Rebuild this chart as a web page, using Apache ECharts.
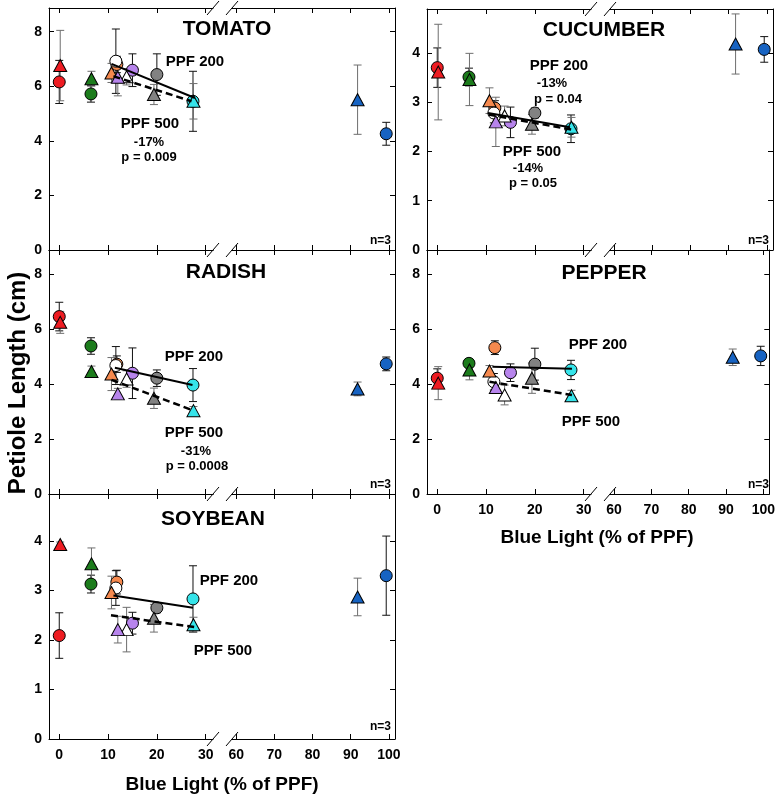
<!DOCTYPE html>
<html><head><meta charset="utf-8">
<script src="https://cdn.jsdelivr.net/npm/echarts@6/dist/echarts.min.js"></script>
<style>html,body{margin:0;padding:0;background:#fff}#c{width:778px;height:796px}</style>
</head><body><div id="c"></div>
<script>
// ---------- DATA ----------
// treatments (light sources), in drawing order
const treatments = ['Red', 'Green', 'Orange', 'White', 'Purple', 'Gray', 'Cyan', 'Blue'];
// blue light (% of PPF) for each treatment
const blue200 = [0, 6.5, 11.8, 11.6, 15, 20, 27.4, 99.3];   // circles, PPF 200
const blue500 = [0.2, 6.6, 10.7, 13.8, 12, 19.4, 27.5, 91.8]; // triangles, PPF 500

// petiole length (cm)
const tomato200 = [6.16, 5.72, 6.80, 6.92, 6.59, 6.43, 5.45, 4.26];
const tomato200Err = [0.79, 0.30, 0.30, 1.18, 0.60, 0.76, 1.10, 0.42];
const tomato500 = [6.76, 6.28, 6.49, 6.35, 6.33, 5.70, 5.45, 5.51];
const tomato500Err = [1.29, 0.27, 0.35, 0.30, 0.68, 0.37, 0.65, 1.27];
const tomatoFit200 = [[10.7, 6.82], [27.8, 5.57]];
const tomatoFit500 = [[11.1, 6.37], [27.1, 5.45]];

const cucumber200 = [3.70, 3.51, 2.88, 2.78, 2.59, 2.78, 2.46, 4.07];
const cucumber200Err = [0.40, 0.18, 0.15, 0.20, 0.31, 0.10, 0.28, 0.26];
const cucumber500 = [3.61, 3.46, 3.03, 2.72, 2.60, 2.55, 2.49, 4.18];
const cucumber500Err = [0.97, 0.53, 0.26, 0.20, 0.50, 0.20, 0.20, 0.61];
const cucumberFit200 = [[10.4, 2.78], [27.2, 2.49]];
const cucumberFit500 = [[10.5, 2.75], [27.6, 2.44]];

const radish200 = [6.45, 5.38, 4.72, 4.67, 4.39, 4.21, 3.96, 4.73];
const radish200Err = [0.52, 0.30, 0.30, 0.69, 0.92, 0.30, 0.60, 0.25];
const radish500 = [6.24, 4.45, 4.36, 4.18, 3.64, 3.48, 3.03, 3.82];
const radish500Err = [0.40, 0.20, 0.60, 0.30, 0.20, 0.37, 0.15, 0.25];
const radishFit200 = [[11.4, 4.59], [27.3, 3.96]];
const radishFit500 = [[10.7, 4.15], [27.4, 3.04]];

const pepper200 = [4.21, 4.75, 5.32, 4.08, 4.41, 4.72, 4.51, 5.02];
const pepper200Err = [0.34, 0.15, 0.25, 0.30, 0.32, 0.58, 0.35, 0.35];
const pepper500 = [4.03, 4.51, 4.47, 3.60, 3.87, 4.21, 3.57, 4.97];
const pepper500Err = [0.60, 0.36, 0.20, 0.36, 0.20, 0.55, 0.20, 0.30];
const pepperFit200 = [[11.3, 4.63], [27.6, 4.55]];
const pepperFit500 = [[10.7, 4.08], [27.6, 3.60]];

const soybean200 = [2.09, 3.13, 3.17, 3.05, 2.34, 2.65, 2.83, 3.30];
const soybean200Err = [0.46, 0.18, 0.24, 0.35, 0.22, 0.10, 0.67, 0.80];
const soybean500 = [3.93, 3.54, 2.96, 2.21, 2.21, 2.44, 2.31, 2.87];
const soybean500Err = [0.05, 0.32, 0.33, 0.45, 0.27, 0.28, 0.15, 0.38];
const soybeanFit200 = [[11.1, 2.90], [27.4, 2.65]];
const soybeanFit500 = [[10.6, 2.50], [27.7, 2.26]];

const xTicksLow = [0, 10, 20, 30];
const xTicksHigh = [60, 70, 80, 90, 100];
const yTicks8 = [0, 2, 4, 6, 8];
const yTicks4 = [0, 1, 2, 3, 4];

// ---------- STYLE ----------
const colorMap = {Red:'#ee1c22', Green:'#1c7c1c', Orange:'#f5894e', White:'#ffffff',
  Purple:'#b784ec', Gray:'#828282', Cyan:'#36e4ea', Blue:'#1763c2'};
const FONT = '"Liberation Sans", Arial, sans-serif';

const panels = [
  {name:'TOMATO', c200:tomato200, e200:tomato200Err, c500:tomato500, e500:tomato500Err, f200:tomatoFit200, f500:tomatoFit500,
   L:49, top:8, h:242, ymax:8.87, yt:yTicks8, xl:false},
  {name:'CUCUMBER', c200:cucumber200, e200:cucumber200Err, c500:cucumber500, e500:cucumber500Err, f200:cucumberFit200, f500:cucumberFit500,
   L:427, top:9, h:241, ymax:4.89, yt:yTicks4, xl:false},
  {name:'RADISH', c200:radish200, e200:radish200Err, c500:radish500, e500:radish500Err, f200:radishFit200, f500:radishFit500,
   L:49, top:250, h:244, ymax:8.87, yt:yTicks8, xl:false},
  {name:'PEPPER', c200:pepper200, e200:pepper200Err, c500:pepper500, e500:pepper500Err, f200:pepperFit200, f500:pepperFit500,
   L:427, top:250, h:244, ymax:8.87, yt:yTicks8, xl:true},
  {name:'SOYBEAN', c200:soybean200, e200:soybean200Err, c500:soybean500, e500:soybean500Err, f200:soybeanFit200, f500:soybeanFit500,
   L:49, top:494, h:245, ymax:4.95, yt:yTicks4, xl:true}
];

const grid = [], xAxis = [], yAxis = [], series = [];

function xAx(g, pos, low, showLabel) {
  const ticks = low ? xTicksLow : xTicksHigh;
  return {type:'value', gridIndex:g, position:pos, min: low ? -2.1 : 58.9, max: low ? 31.5 : 101.6,
    splitLine:{show:false},
    axisLine:{show:true, onZero:false, lineStyle:{color:'#000', width:1}},
    axisTick:{show:true, inside:true, length:5, customValues:ticks, lineStyle:{color:'#000', width:1}},
    axisLabel:{show:showLabel, customValues:ticks, margin:9, fontSize:14, fontWeight:'bold', color:'#000', fontFamily:FONT}};
}
function yAx(g, pos, p, showLabel) {
  return {type:'value', gridIndex:g, position:pos, min:0, max:p.ymax,
    splitLine:{show:false},
    axisLine:{show:true, onZero:false, lineStyle:{color:'#000', width:1}},
    axisTick:{show:true, inside:true, length:5, customValues:p.yt, lineStyle:{color:'#000', width:1}},
    axisLabel:{show:showLabel, customValues:p.yt, margin:7, fontSize:14, fontWeight:'bold', color:'#000', fontFamily:FONT}};
}
function errSeries(xi, yi, data, color) {
  return {type:'custom', xAxisIndex:xi, yAxisIndex:yi, z:2, silent:true, data:data,
    encode:{x:0, y:1},
    renderItem:function(params, api){
      const x = api.value(0), y = api.value(1), e = api.value(2);
      const t = api.coord([x, y + e]), b = api.coord([x, y - e]);
      const w = 4;
      const st = {stroke:color, lineWidth:1};
      return {type:'group', children:[
        {type:'line', shape:{x1:t[0], y1:t[1], x2:b[0], y2:b[1]}, style:st},
        {type:'line', shape:{x1:t[0]-w, y1:t[1], x2:t[0]+w, y2:t[1]}, style:st},
        {type:'line', shape:{x1:b[0]-w, y1:b[1], x2:b[0]+w, y2:b[1]}, style:st}
      ]};
    }};
}
function scat(xi, yi, items, symbol, size) {
  return {type:'scatter', xAxisIndex:xi, yAxisIndex:yi, symbol:symbol, symbolSize:size, z:3, silent:true,
    data:items, itemStyle:{borderColor:'#000', borderWidth:1, opacity:1}};
}

panels.forEach(function(p, i){
  const gA = 2*i, gB = 2*i + 1;
  grid.push({left:p.L, top:p.top, width:164, height:p.h});
  grid.push({left:p.L + 183, top:p.top, width:163, height:p.h});
  const xA = xAxis.length;
  xAxis.push(xAx(gA, 'bottom', true, p.xl), xAx(gA, 'top', true, false));
  const xB = xAxis.length;
  xAxis.push(xAx(gB, 'bottom', false, p.xl), xAx(gB, 'top', false, false));
  yAxis.push(yAx(gA, 'left', p, true), yAx(gB, 'right', p, false));

  const sets = [
    {xs:blue200, ys:p.c200, es:p.e200, sym:'circle', size:12, err:'#111'},
    {xs:blue500, ys:p.c500, es:p.e500, sym:'triangle', size:[13,12], err:'#6e6e6e'}
  ];
  // error bars first (below markers)
  sets.forEach(function(s){
    const lo = [], hi = [];
    treatments.forEach(function(t, k){
      const d = [s.xs[k], s.ys[k], s.es[k]];
      (s.xs[k] < 45 ? lo : hi).push(d);
    });
    series.push(errSeries(xA, gA, lo, s.err));
    series.push(errSeries(xB, gB, hi, s.err));
  });
  sets.forEach(function(s){
    const lo = [], hi = [];
    treatments.forEach(function(t, k){
      const d = {value:[s.xs[k], s.ys[k]], itemStyle:{color:colorMap[t]}};
      (s.xs[k] < 45 ? lo : hi).push(d);
    });
    series.push(scat(xA, gA, lo, s.sym, s.size));
    series.push(scat(xB, gB, hi, s.sym, s.size));
  });
  series.push({type:'line', xAxisIndex:xA, yAxisIndex:gA, data:p.f200, symbol:'none', z:4, silent:true,
    lineStyle:{color:'#000', width:2, type:'solid'}});
  series.push({type:'line', xAxisIndex:xA, yAxisIndex:gA, data:p.f500, symbol:'none', z:4, silent:true,
    lineStyle:{color:'#000', width:2.5, type:[7,4]}});
});

// ---------- TEXT / DECORATION ----------
const graphic = [];
function txt(x, y, s, size, weight, align, rot) {
  graphic.push({type:'text', x:x, y:y, rotation:rot || 0, silent:true, z:10,
    style:{text:s, fill:'#000', font:(weight||'bold') + ' ' + size + 'px ' + FONT,
      textAlign:align || 'center', textVerticalAlign:'middle'}});
}
// panel titles
txt(227, 29, 'TOMATO', 21); txt(604, 30, 'CUCUMBER', 21); txt(226, 272, 'RADISH', 21);
txt(604, 273, 'PEPPER', 21); txt(213, 519, 'SOYBEAN', 21);
// annotations
txt(195, 62, 'PPF 200', 15); txt(150, 124, 'PPF 500', 15); txt(149, 142, '-17%', 13); txt(149, 157, 'p = 0.009', 13);
txt(559, 66, 'PPF 200', 15); txt(552, 83, '-13%', 13); txt(558, 99, 'p = 0.04', 13);
txt(532, 152, 'PPF 500', 15); txt(528, 168, '-14%', 13); txt(533, 183, 'p = 0.05', 13);
txt(194, 357, 'PPF 200', 15); txt(194, 433, 'PPF 500', 15); txt(196, 451, '-31%', 13); txt(197, 466, 'p = 0.0008', 13);
txt(598, 345, 'PPF 200', 15); txt(591, 422, 'PPF 500', 15);
txt(229, 581, 'PPF 200', 15); txt(223, 651, 'PPF 500', 15);
// n=3
txt(391, 241, 'n=3', 12, 'bold', 'right'); txt(769, 241, 'n=3', 12, 'bold', 'right');
txt(391, 485, 'n=3', 12, 'bold', 'right'); txt(769, 485, 'n=3', 12, 'bold', 'right');
txt(391, 727, 'n=3', 12, 'bold', 'right');
// axis titles
txt(222, 785, 'Blue Light (% of PPF)', 19); txt(597, 538, 'Blue Light (% of PPF)', 19);
txt(18, 383, 'Petiole Length (cm)', 24, 'bold', 'center', Math.PI/2);
// axis break marks
function slash(cx, cy) {
  graphic.push({type:'line', silent:true, z:10, shape:{x1:cx-6, y1:cy+7, x2:cx+6, y2:cy-7},
    style:{stroke:'#000', lineWidth:1}});
}
[8, 250, 494, 739].forEach(function(y){ slash(213, y); slash(232, y); });
[9, 250, 494].forEach(function(y){ slash(591, y); slash(610, y); });

const chart = echarts.init(document.getElementById('c'), null, {renderer:'canvas'});
chart.setOption({animation:false, backgroundColor:'#fff', grid:grid, xAxis:xAxis, yAxis:yAxis, series:series, graphic:graphic});
</script></body></html>
